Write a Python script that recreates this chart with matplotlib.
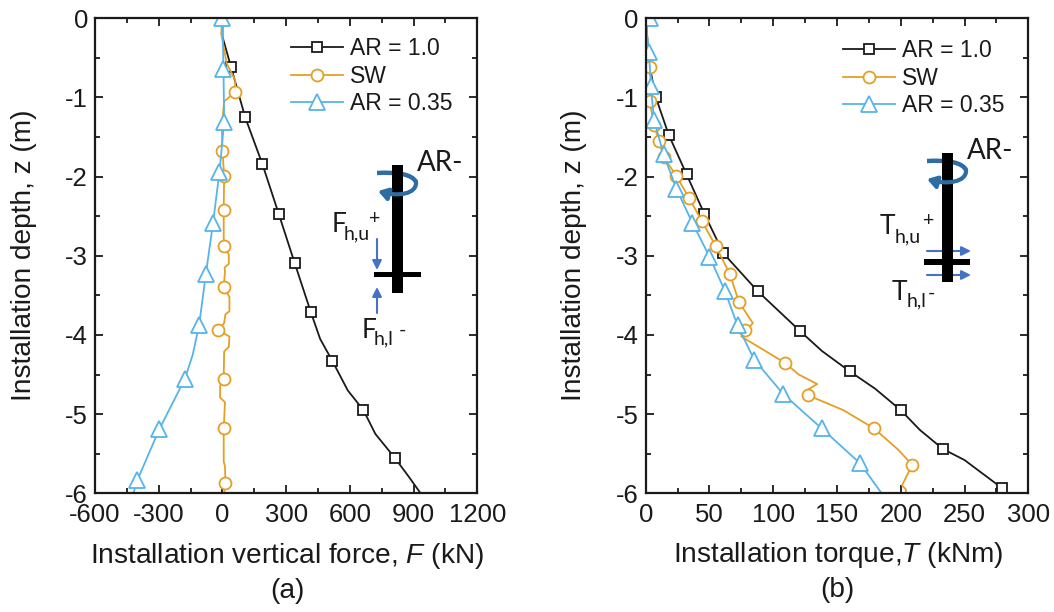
#!/usr/bin/env python3
"""Installation vertical force and torque against depth, two panels with pile sketches."""
import matplotlib

matplotlib.use("Agg")
import matplotlib.pyplot as plt
from matplotlib.lines import Line2D
from matplotlib.patches import FancyArrowPatch, PathPatch, Rectangle
from matplotlib.path import Path
from matplotlib.ticker import MultipleLocator

W, H = 1054, 612
BLACK = "#1a1a1a"
ORANGE = "#e69f25"
BLUE = "#56b4e9"
SKETCH_BLUE = "#2e6da4"
ARROW_BLUE = "#4472c4"

LABELS = ["AR = 1.0", "SW", "AR = 0.35"]
Y_TICKS = [0, -1, -2, -3, -4, -5, -6]

# panel (a): force, kN
a_ar1_line_f = [0, 0, 41, 107, 188, 265, 340, 416, 460, 518, 590, 664, 720, 811, 880, 933]
a_ar1_line_z = [0, -0.23, -0.62, -1.25, -1.84, -2.47, -3.09, -3.71, -4.05, -4.33, -4.7, -4.95, -5.25, -5.55, -5.8, -6]
a_ar1_mark_f = [41, 107, 188, 265, 340, 416, 518, 664, 811]
a_ar1_mark_z = [-0.62, -1.25, -1.84, -2.47, -3.09, -3.71, -4.33, -4.95, -5.55]

a_sw_line_f = [0, -6, 20, 60, 60, 8, -3, 0, 8, 6, 6, 30, 30, 10, 12, 6, 33, 33, 14, 8, -19, 33, 30, 8, 6, -11, -11, 12, 6, 6, 12, 14, 8]
a_sw_line_z = [0, -0.19, -0.57, -0.78, -0.93, -1.05, -1.37, -1.67, -1.99, -2.42, -2.88, -2.98, -3.1, -3.15, -3.2, -3.4, -3.52, -3.7, -3.74, -3.85, -3.94, -4.02, -4.15, -4.21, -4.56, -4.64, -4.79, -4.85, -5.18, -5.6, -5.66, -5.87, -6]
a_sw_mark_f = [60, 0, 8, 6, 6, 6, -19, 6, 6, 14]
a_sw_mark_z = [-0.93, -1.67, -1.99, -2.42, -2.88, -3.40, -3.94, -4.56, -5.18, -5.87]

a_ar035_line_f = [0, 5, 8, -14, -44, -78, -110, -140, -176, -297, -400, -419]
a_ar035_line_z = [0, -0.64, -1.31, -1.94, -2.58, -3.23, -3.88, -4.25, -4.55, -5.19, -5.83, -6]
a_ar035_mark_f = [0, 5, 8, -14, -44, -78, -110, -176, -297, -400]
a_ar035_mark_z = [0, -0.64, -1.31, -1.94, -2.58, -3.23, -3.88, -4.55, -5.19, -5.83]

# panel (b): torque, kNm
b_ar1_line_t = [0, 3, 8, 18, 32, 46, 61, 88, 121, 138, 160, 180, 200, 215, 233, 250, 279]
b_ar1_line_z = [0, -0.6, -1.0, -1.47, -1.97, -2.47, -2.97, -3.45, -3.95, -4.2, -4.46, -4.68, -4.95, -5.2, -5.44, -5.58, -5.93]
b_ar1_mark_t = [8, 18, 32, 46, 61, 88, 121, 160, 200, 233, 279]
b_ar1_mark_z = [-1.0, -1.47, -1.97, -2.47, -2.97, -3.45, -3.95, -4.46, -4.95, -5.44, -5.93]

b_sw_line_t = [0, 3, 5, 3, 6.5, 10.5, 14, 24, 34, 44, 55, 66, 73, 84, 75, 109, 120, 134.5, 124, 127, 155, 179, 198, 209, 201, 204, 204]
b_sw_line_z = [0, -0.62, -0.85, -1.04, -1.35, -1.55, -1.75, -1.99, -2.27, -2.56, -2.88, -3.23, -3.58, -3.85, -4.02, -4.35, -4.5, -4.62, -4.72, -4.76, -4.95, -5.18, -5.45, -5.64, -5.9, -5.95, -6]
b_sw_mark_t = [3, 3, 6.5, 10.5, 14, 24, 34, 44, 55, 66, 73, 78, 109, 127, 179, 209]
b_sw_mark_z = [-0.62, -1.04, -1.35, -1.55, -1.75, -1.99, -2.27, -2.56, -2.88, -3.23, -3.58, -3.94, -4.35, -4.76, -5.18, -5.64]

b_ar035_line_t = [1, 1, 2.6, 4, 6.5, 14, 24, 36.5, 50, 62, 72, 85, 108, 138, 168, 185]
b_ar035_line_z = [0, -0.2, -0.42, -0.85, -1.28, -1.72, -2.15, -2.58, -3.01, -3.44, -3.88, -4.31, -4.75, -5.18, -5.62, -6]
b_ar035_mark_t = [3, 2.6, 4, 6.5, 14, 24, 36.5, 50, 62, 72, 85, 108, 138, 168]
b_ar035_mark_z = [0, -0.42, -0.85, -1.28, -1.72, -2.15, -2.58, -3.01, -3.44, -3.88, -4.31, -4.75, -5.18, -5.62]

plt.rcParams["font.family"] = ["Liberation Sans", "DejaVu Sans"]
plt.rcParams["axes.unicode_minus"] = False
plt.rcParams["mathtext.fontset"] = "custom"
plt.rcParams["mathtext.it"] = "Liberation Sans:italic"
plt.rcParams["mathtext.rm"] = "Liberation Sans"

LW = 1.3
STYLES = [
    dict(color=BLACK, marker="s", ms=7.4),
    dict(color=ORANGE, marker="o", ms=8.6),
    dict(color=BLUE, marker="^", ms=11),
]


def make_axes(fig, left, right, top=18.3, bottom=493.3):
    return fig.add_axes([left / W, 1 - bottom / H, (right - left) / W, (bottom - top) / H])


def draw_series(ax, line_x, line_z, mark_x, mark_z, style):
    ax.plot(line_x, line_z, color=style["color"], lw=LW)
    ax.plot(mark_x, mark_z, ls="none", marker=style["marker"], ms=style["ms"], mfc="white",
            mec=style["color"], mew=LW)


def style_axes(ax, xlim, xmajor, xminor):
    ax.set_xlim(*xlim)
    ax.set_ylim(-6, 0)
    ax.xaxis.set_major_locator(MultipleLocator(xmajor))
    ax.xaxis.set_minor_locator(MultipleLocator(xminor))
    ax.yaxis.set_major_locator(MultipleLocator(1))
    ax.yaxis.set_minor_locator(MultipleLocator(0.5))
    ax.set_yticks(Y_TICKS)
    ax.tick_params(which="major", direction="in", top=True, right=True, length=6, width=1.3,
                   labelsize=18.5, color=BLACK, labelcolor=BLACK)
    ax.tick_params(which="minor", direction="in", top=True, right=True, length=3.5, width=1.3, color=BLACK)
    ax.tick_params(axis="x", which="major", pad=7)
    ax.tick_params(axis="y", which="major", pad=5)
    for s in ax.spines.values():
        s.set_linewidth(1.6)
        s.set_color(BLACK)


def add_legend(ax, overlay, x, y):
    handles = [
        Line2D([], [], color=st["color"], lw=LW, marker=st["marker"], ms=st["ms"], mfc="white",
               mec=st["color"], mew=LW)
        for st in STYLES
    ]
    ax.legend(handles, LABELS, loc="upper left", bbox_to_anchor=(x, y), bbox_transform=overlay.transData,
              frameon=False, fontsize=16.5, handlelength=2.27, handletextpad=0.3, labelspacing=0.2,
              borderpad=0, borderaxespad=0, labelcolor=BLACK)


def sub_label(ov, letter, sub, sign, x, y, sub_dx, sub_dy, sign_dx, sign_dy):
    font = dict(family="Lato", color=BLACK, va="center", ha="left")
    ov.text(x, y, letter, fontsize=19, **font)
    ov.text(x + sub_dx, y + sub_dy, sub, fontsize=14, **font)
    ov.text(x + sign_dx, y + sign_dy, sign, fontsize=14, **font)


def pile_sketch(ov, shaft, plate, arc_left, arc_right_x, arc_end):
    x0, x1, y0, y1 = shaft
    ax0, ay0 = arc_left
    ex, ey = arc_end
    ymid = (ay0 + ey) / 2
    back = Path([(ax0, ay0), (ax0 + 20, ay0 - 1), (arc_right_x - 4, ay0 + 1), (arc_right_x, ymid)],
                [Path.MOVETO, Path.CURVE4, Path.CURVE4, Path.CURVE4])
    ov.add_patch(PathPatch(back, fc="none", ec=SKETCH_BLUE, lw=3.2, zorder=3, capstyle="butt"))
    ov.add_patch(Rectangle((x0, y0), x1 - x0, y1 - y0, fc="black", ec="none", zorder=4))
    ov.add_patch(Rectangle((plate[0], plate[2]), plate[1] - plate[0], plate[3] - plate[2], fc="black", ec="none", zorder=4))
    front = Path([(arc_right_x, ymid), (arc_right_x + 1, ey + 3), (ex + 20, ey + 6), (ex, ey)],
                 [Path.MOVETO, Path.CURVE4, Path.CURVE4, Path.CURVE4])
    ov.add_patch(FancyArrowPatch(path=front, arrowstyle="-|>,head_length=0.5,head_width=0.32", mutation_scale=11,
                                 fc=SKETCH_BLUE, ec=SKETCH_BLUE, lw=3, zorder=5))
    ov.text(x1 + 14.5, y0 - 2, "AR-", family="Lato", fontsize=20, color=BLACK, va="center", ha="left", zorder=6)


def small_arrow(ov, start, end):
    ov.annotate("", xy=end, xytext=start,
                arrowprops=dict(arrowstyle="-|>,head_length=0.5,head_width=0.25", color=ARROW_BLUE, lw=1.5,
                                shrinkA=0, shrinkB=0, mutation_scale=11))


def main():
    fig = plt.figure(figsize=(W / 100, H / 100), dpi=100)
    ax_a = make_axes(fig, 95, 477.3)
    ax_b = make_axes(fig, 645.7, 1028.3)
    ov = fig.add_axes([0, 0, 1, 1], zorder=5)
    ov.set_xlim(0, W)
    ov.set_ylim(H, 0)
    ov.axis("off")

    draw_series(ax_a, a_ar1_line_f, a_ar1_line_z, a_ar1_mark_f, a_ar1_mark_z, STYLES[0])
    draw_series(ax_a, a_sw_line_f, a_sw_line_z, a_sw_mark_f, a_sw_mark_z, STYLES[1])
    draw_series(ax_a, a_ar035_line_f, a_ar035_line_z, a_ar035_mark_f, a_ar035_mark_z, STYLES[2])
    style_axes(ax_a, (-600, 1200), 300, 150)

    draw_series(ax_b, b_ar1_line_t, b_ar1_line_z, b_ar1_mark_t, b_ar1_mark_z, STYLES[0])
    draw_series(ax_b, b_sw_line_t, b_sw_line_z, b_sw_mark_t, b_sw_mark_z, STYLES[1])
    draw_series(ax_b, b_ar035_line_t, b_ar035_line_z, b_ar035_mark_t, b_ar035_mark_z, STYLES[2])
    style_axes(ax_b, (0, 300), 50, 25)

    add_legend(ax_a, ov, 291, 37)
    add_legend(ax_b, ov, 843, 39)

    label = dict(fontsize=20.2, color=BLACK, ha="center", va="center")
    ov.text(287, 556, r"Installation vertical force, $\mathit{F}$ (kN)", **label)
    ov.text(287, 591, "(a)", **label)
    ov.text(838, 555, r"Installation torque,$\mathit{T}$ (kNm)", **label)
    ov.text(837, 590, "(b)", **label)
    ov.text(24, 255, "Installation depth, z (m)", rotation=90, **label)
    ov.text(574, 255, "Installation depth, z (m)", rotation=90, **label)

    pile_sketch(ov, (391.7, 402.7, 165, 293), (374, 421, 272, 277), (377, 173), 416, (378, 191))
    small_arrow(ov, (377, 239), (377, 270))
    small_arrow(ov, (377, 313), (377, 287))
    sub_label(ov, "F", "h,u", "+", 332, 224, 12, 10, 37, -6)
    sub_label(ov, "F", "h,l", "-", 362, 330, 12, 9, 37, 0)

    pile_sketch(ov, (941.7, 952.7, 153, 282), (924, 970, 259, 265), (927, 161), 966, (927, 179))
    small_arrow(ov, (927, 251), (971, 251))
    small_arrow(ov, (927, 275), (971, 275))
    sub_label(ov, "T", "h,u", "+", 880, 227, 15, 10, 43, -6)
    sub_label(ov, "T", "h,l", "-", 892, 292, 15, 9, 36, 1)

    fig.savefig("out.png", dpi=100)
    plt.close(fig)


if __name__ == "__main__":
    main()
